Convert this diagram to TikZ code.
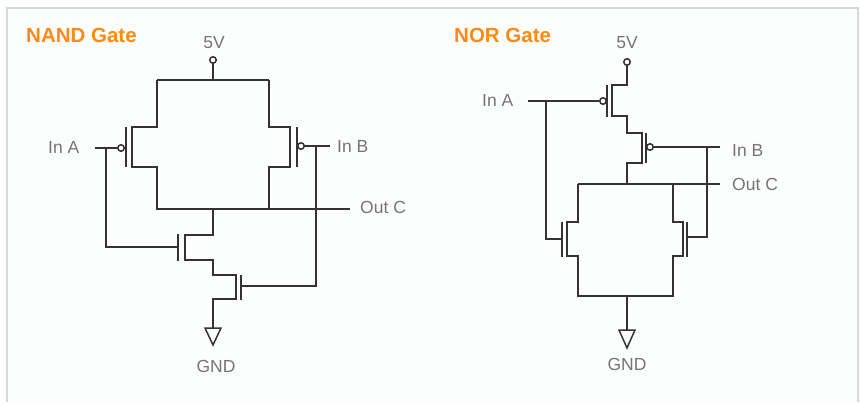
\documentclass[tikz,border=0pt]{standalone}
\usepackage{fontspec}
\setmainfont{Liberation Sans}
\definecolor{wire}{HTML}{333333}
\definecolor{txt}{HTML}{757575}
\definecolor{head}{HTML}{FF8A14}
\definecolor{paper}{HTML}{FCFDFD}
\definecolor{edge}{HTML}{D6D6D6}
\tikzset{
  wirepath/.style={draw=wire,line width=1.9pt,line join=miter},
  gatebar/.style={draw=wire,line width=2pt},
  bubble/.style={circle,draw=wire,fill=white,line width=1.5pt,minimum size=6.5pt,inner sep=0pt},
  ground/.style={draw=wire,line width=1.5pt,fill=none,line join=miter},
  label/.style={text=txt,inner sep=0pt,font=\fontsize{17.5}{20}\selectfont},
  heading/.style={text=head,inner sep=0pt,font=\bfseries\fontsize{20.5}{23}\selectfont}
}
\begin{document}
\begin{tikzpicture}[x=1pt,y=-1pt]
\useasboundingbox (0,0) rectangle (860,402);
% panel
\fill[white] (0,0) rectangle (860,402);
\fill[paper] (7,8) rectangle (858,402);
\draw[edge,line width=2pt] (7,402) -- (7,8) -- (858,8) -- (858,402);

% ---------- NAND ----------
\node[heading,anchor=west] (nandt) at (26,35) {NAND Gate};
\node[label] (nand5vt) at (214,43) {5V};
\node[label,anchor=west] (nandat) at (48,147) {In A};
\node[label,anchor=west] (nandbt) at (337,146) {In B};
\node[label,anchor=west] (nandct) at (360,207) {Out C};
\node[label] (nandgt) at (216,366) {GND};

\node[bubble] (nand5v) at (213,60) {};
\node[bubble] (nandba) at (121,148) {};
\node[bubble] (nandbb) at (301,146) {};
\coordinate (ntop) at (213,80);
\coordinate (nmid) at (213,209);
\coordinate (nl) at (157,80);
\coordinate (nr) at (269,80);
\coordinate (nina) at (95,148);
\coordinate (ninb) at (330,146);
\coordinate (nout) at (350,209);
\coordinate (nbranchA) at (106,148);
\coordinate (nbranchB) at (316,146);
\coordinate (ngateA) at (178,247);
\coordinate (ngateB) at (241,286);
\coordinate (ngnd) at (213,328);

\path[wirepath] (nand5v.south) -- (ntop);
\path[wirepath] (nl) -- (nr);
\path[wirepath] (nl) -- (157,127) -- (132,127) -- (132,167) -- (157,167) -- (157,209) -- (nout);
\path[wirepath] (nr) -- (269,127) -- (290,127) -- (290,167) -- (269,167) -- (269,209);
\path[wirepath] (nmid) -- (213,235) -- (185,235) -- (185,260) -- (213,260) -- (213,275) -- (236,275) -- (236,299) -- (213,299) -- (ngnd);
\path[wirepath] (nina) -- (nandba.west);
\path[wirepath] (nbranchA) |- (ngateA);
\path[wirepath] (nandbb.east) -- (ninb);
\path[wirepath] (nbranchB) |- (ngateB);
\draw[gatebar] (125.5,127) -- (125.5,167);
\draw[gatebar] (297,127) -- (297,167);
\draw[gatebar] (178,234) -- (178,261);
\draw[gatebar] (241,275) -- (241,300);
\draw[ground] (ngnd) -- (205,328) -- (213,345) -- (221,328) -- cycle;

% ---------- NOR ----------
\node[heading,anchor=west] (nort) at (454,35) {NOR Gate};
\node[label] (nor5vt) at (627,43) {5V};
\node[label,anchor=west] (norat) at (482,100) {In A};
\node[label,anchor=west] (norbt) at (732,150) {In B};
\node[label,anchor=west] (norct) at (732,184) {Out C};
\node[label] (norgt) at (627,364) {GND};

\node[bubble] (nor5v) at (627,62) {};
\node[bubble] (norba) at (603,101) {};
\node[bubble] (norbb) at (650,147) {};
\coordinate (rmid) at (627,184);
\coordinate (rl) at (578,184);
\coordinate (rr) at (673,184);
\coordinate (rbot) at (627,296);
\coordinate (rina) at (528,101);
\coordinate (rinb) at (720,147);
\coordinate (rout) at (720,184);
\coordinate (rbranchA) at (546,101);
\coordinate (rbranchB) at (707,147);
\coordinate (rgateA) at (562,239);
\coordinate (rgateB) at (687,237);
\coordinate (rgnd) at (627,330);

\path[wirepath] (nor5v.south) -- (627,85) -- (612,85) -- (612,116) -- (627,116) -- (627,133) -- (642,133) -- (642,163) -- (627,163) -- (rmid);
\path[wirepath] (rl) -- (rout);
\path[wirepath] (rl) -- (578,222) -- (567,222) -- (567,256) -- (578,256) -- (578,296) -- (673,296) -- (673,256) -- (683,256) -- (683,222) -- (673,222) -- (rr);
\path[wirepath] (rbot) -- (rgnd);
\path[wirepath] (rina) -- (norba.west);
\path[wirepath] (rbranchA) |- (rgateA);
\path[wirepath] (norbb.east) -- (rinb);
\path[wirepath] (rbranchB) |- (rgateB);
\draw[gatebar] (607,85) -- (607,117);
\draw[gatebar] (646,133) -- (646,163);
\draw[gatebar] (562,222) -- (562,257);
\draw[gatebar] (687,222) -- (687,257);
\draw[ground] (rgnd) -- (619,330) -- (627,348) -- (635,330) -- cycle;
\end{tikzpicture}
\end{document}
